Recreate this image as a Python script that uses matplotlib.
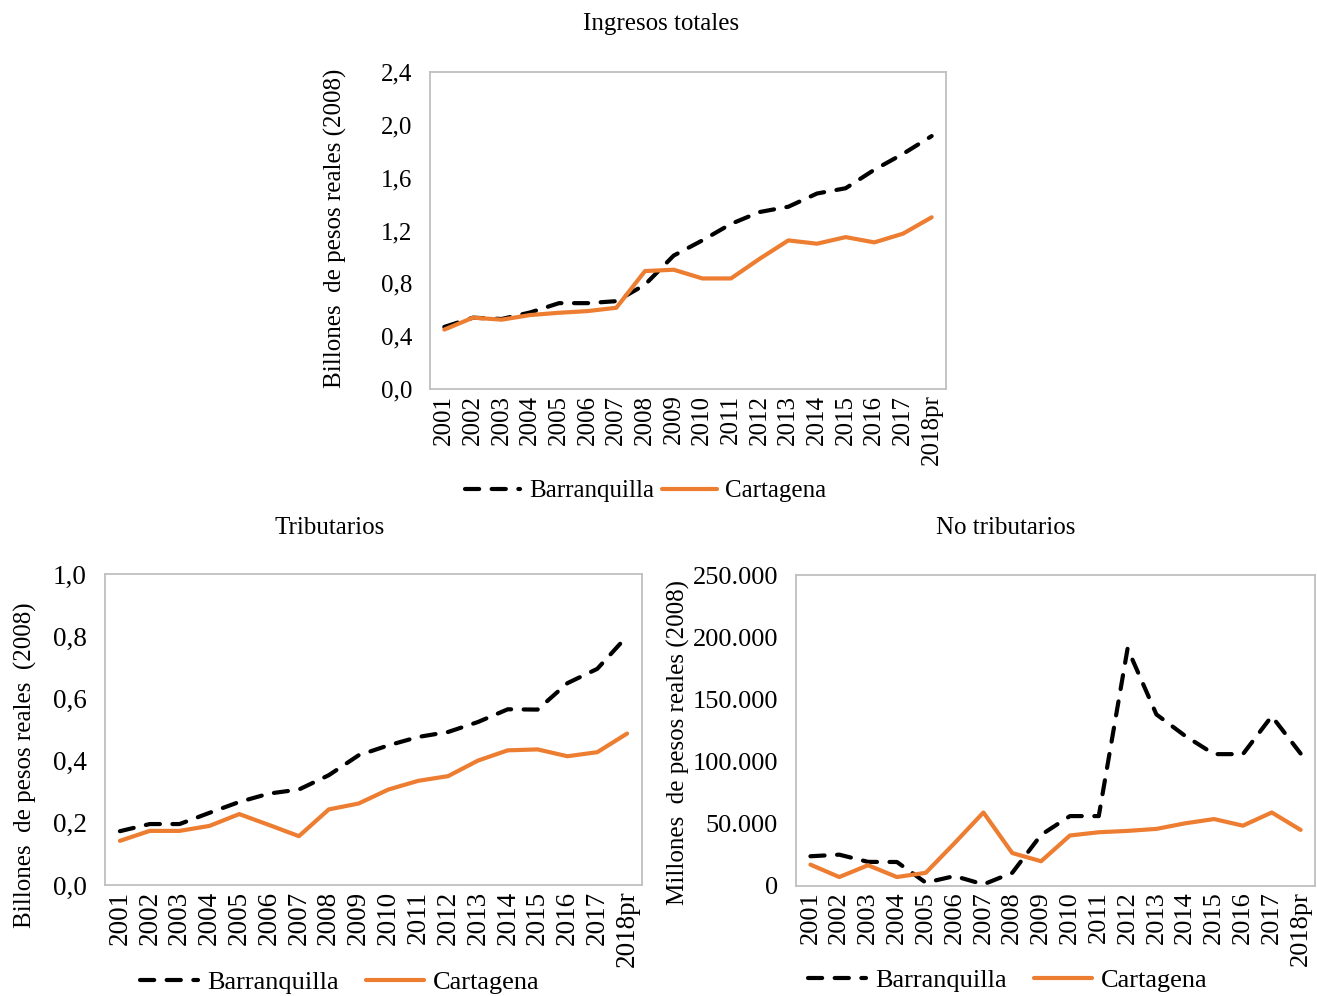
#!/usr/bin/env python3
"""
ingresos_barranquilla_cartagena.py - Ingresos de Barranquilla y Cartagena, 2001-2018pr

Three panels: total revenue, tax revenue and non-tax revenue, in constant 2008 pesos.
"""

import matplotlib
matplotlib.use("Agg")
import matplotlib.pyplot as plt
from matplotlib.ticker import FuncFormatter

# Data
years = ["2001", "2002", "2003", "2004", "2005", "2006", "2007", "2008", "2009",
         "2010", "2011", "2012", "2013", "2014", "2015", "2016", "2017", "2018pr"]

# Ingresos totales (billones de pesos de 2008)
total_barranquilla = [0.47, 0.54, 0.53, 0.58, 0.65, 0.65, 0.665, 0.79, 1.01,
                      1.125, 1.25, 1.34, 1.38, 1.48, 1.52, 1.66, 1.78, 1.915]
total_cartagena = [0.45, 0.54, 0.525, 0.56, 0.577, 0.59, 0.615, 0.893, 0.903,
                   0.837, 0.837, 0.986, 1.125, 1.10, 1.15, 1.11, 1.176, 1.30]

# Ingresos tributarios (billones de pesos de 2008)
trib_barranquilla = [0.173, 0.196, 0.196, 0.232, 0.267, 0.294, 0.307, 0.353, 0.417,
                     0.449, 0.476, 0.492, 0.524, 0.565, 0.564, 0.649, 0.695, 0.80]
trib_cartagena = [0.142, 0.174, 0.174, 0.19, 0.228, 0.193, 0.157, 0.243, 0.262,
                  0.307, 0.335, 0.35, 0.40, 0.433, 0.436, 0.414, 0.427, 0.487]

# Ingresos no tributarios (millones de pesos de 2008)
notrib_barranquilla = [23900, 25200, 19400, 19300, 2700, 8000, 1300, 10600, 41100,
                       56200, 56200, 190900, 137900, 120600, 106000, 106000, 136500, 106500]
notrib_cartagena = [17200, 7200, 16700, 7200, 10600, 34500, 59100, 26500, 19900,
                    40600, 43200, 44300, 45900, 50400, 53800, 48500, 59100, 45100]

# Style
ORANGE = "#ED7D31"
SPINE = "#BFBFBF"
FONT = "Liberation Serif"
FS = 18

plt.rcParams["font.family"] = [FONT, "DejaVu Serif"]
plt.rcParams["font.size"] = FS

W, H = 1317, 996


def comma_decimal(v, pos):
    return f"{v:.1f}".replace(".", ",")


def dot_thousands(v, pos):
    return f"{int(round(v)):,}".replace(",", ".")


def draw_panel(fig, rect, barranquilla, cartagena, title, ylabel, ymax, ystep,
               formatter, legend_xy, title_xy, ylabel_xy,
               tick_fs=FS, legend_fs=FS, colspace=0.3):
    ax = fig.add_axes(px_rect(*rect))
    x = range(len(years))

    ax.plot(x, barranquilla, color="black", linewidth=3.0, linestyle=(0, (3.4, 3.0)),
            dash_capstyle="round", label="Barranquilla")
    ax.plot(x, cartagena, color=ORANGE, linewidth=3.0, solid_capstyle="round",
            label="Cartagena")

    ax.set_xlim(-0.5, len(years) - 0.5)
    ax.set_ylim(0, ymax)
    ax.set_yticks([i * ystep for i in range(int(round(ymax / ystep)) + 1)])
    ax.yaxis.set_major_formatter(FuncFormatter(formatter))
    ax.set_xticks(list(x))
    ax.set_xticklabels(years, rotation=90)
    ax.tick_params(axis="both", length=0, labelsize=tick_fs)
    ax.tick_params(axis="y", pad=13)
    ax.tick_params(axis="x", pad=4)

    for side in ax.spines.values():
        side.set_color(SPINE)
        side.set_linewidth(1.3)

    fig.text(title_xy[0] / W, 1 - title_xy[1] / H, title, ha="center", va="center",
             fontsize=FS)
    fig.text(ylabel_xy[0] / W, 1 - ylabel_xy[1] / H, ylabel, rotation=90,
             ha="center", va="center", fontsize=FS)

    ax.legend(loc="center", bbox_to_anchor=(legend_xy[0] / W, 1 - legend_xy[1] / H),
              bbox_transform=fig.transFigure, ncol=2, frameon=False,
              handlelength=2.2, columnspacing=colspace, handletextpad=0.35,
              fontsize=legend_fs)
    return ax


def px_rect(left, top, right, bottom):
    """Axes rectangle from pixel edges."""
    return [left / W, 1 - bottom / H, (right - left) / W, (bottom - top) / H]


def main():
    fig = plt.figure(figsize=(W / 100, H / 100), dpi=100)

    draw_panel(fig, (430, 72, 946, 389), total_barranquilla, total_cartagena,
               "Ingresos totales", "Billones  de pesos reales (2008)", 2.4, 0.4,
               comma_decimal, (646, 491), (661, 24), (335, 228))

    draw_panel(fig, (105, 574, 642, 885), trib_barranquilla, trib_cartagena,
               "Tributarios", "Billones  de pesos reales  (2008)", 1.0, 0.2,
               comma_decimal, (340, 982), (330, 528), (25, 765),
               tick_fs=19.5, legend_fs=19, colspace=1.0)

    draw_panel(fig, (796, 575, 1315, 886), notrib_barranquilla, notrib_cartagena,
               "No tributarios", "Millones  de pesos reales (2008)", 250000, 50000,
               dot_thousands, (1008, 980), (1006, 528), (678, 742),
               tick_fs=19, legend_fs=19, colspace=1.0)

    fig.savefig("out.png", dpi=100)
    plt.close(fig)


if __name__ == "__main__":
    main()
